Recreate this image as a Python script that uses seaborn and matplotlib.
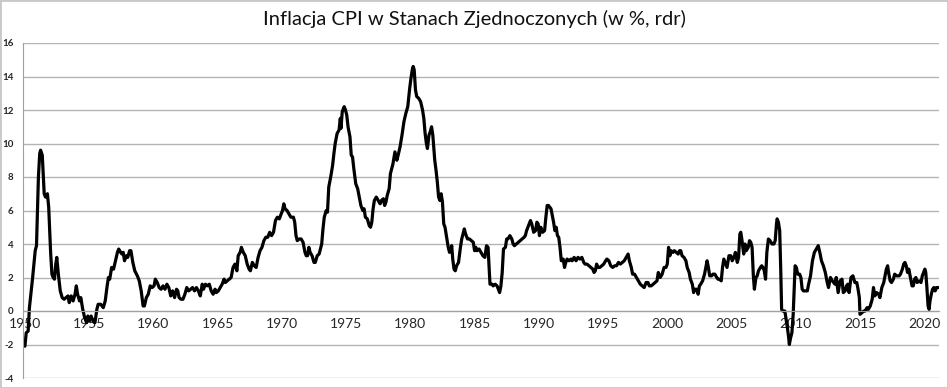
import matplotlib
matplotlib.use("Agg")
import matplotlib.pyplot as plt
from matplotlib.patches import Rectangle
import seaborn as sns
import pandas as pd

# (rok, inflacja r/r w %), po dekadach
dane_1950 = [
    (1950.0, -2.1), (1950.1, -1.3), (1950.25, -1.2), (1950.35, 0.2), (1950.6, 2.0), (1950.8, 3.6), (1950.9, 3.9),
    (1951.05, 8.0), (1951.15, 9.4), (1951.22, 9.6), (1951.35, 9.3), (1951.5, 7.0), (1951.6, 6.8), (1951.75, 7.0), (1951.85, 6.2),
    (1952.0, 3.5), (1952.1, 2.2), (1952.2, 2.0), (1952.3, 1.9), (1952.4, 2.8), (1952.48, 3.2), (1952.6, 2.2), (1952.75, 1.2), (1952.9, 0.8),
    (1953.05, 0.7), (1953.2, 0.8), (1953.35, 0.9), (1953.45, 0.5), (1953.6, 0.9), (1953.75, 0.6), (1953.9, 1.0),
    (1954.0, 1.5), (1954.1, 1.0), (1954.25, 0.6), (1954.35, 0.8), (1954.5, 0.1), (1954.65, -0.4), (1954.8, -0.7), (1954.9, -0.3),
    (1955.0, -0.6), (1955.15, -0.3), (1955.3, -0.6), (1955.45, -0.7), (1955.6, 0.1), (1955.7, 0.4), (1955.9, 0.4),
    (1956.1, 0.2), (1956.25, 0.6), (1956.4, 1.5), (1956.5, 2.0), (1956.6, 1.9), (1956.75, 2.6), (1956.9, 2.5),
    (1957.05, 3.0), (1957.2, 3.5), (1957.3, 3.7), (1957.45, 3.5), (1957.55, 3.4), (1957.65, 3.5), (1957.75, 3.0), (1957.9, 3.3),
    (1958.0, 3.2), (1958.15, 3.6), (1958.25, 3.6), (1958.4, 2.9), (1958.55, 2.4), (1958.75, 2.1), (1958.9, 1.8),
    (1959.05, 1.2), (1959.2, 0.3), (1959.3, 0.3), (1959.45, 0.8), (1959.6, 1.0), (1959.75, 1.5), (1959.9, 1.4),
]
dane_1960 = [
    (1960.05, 1.5), (1960.15, 1.9), (1960.3, 1.7), (1960.45, 1.4), (1960.6, 1.3), (1960.75, 1.5), (1960.9, 1.3),
    (1961.05, 1.6), (1961.2, 1.4), (1961.35, 0.9), (1961.5, 1.2), (1961.65, 0.8), (1961.8, 1.3), (1961.9, 1.2),
    (1962.0, 0.8), (1962.15, 0.7), (1962.3, 0.7), (1962.45, 1.0), (1962.6, 1.4), (1962.75, 1.2), (1962.9, 1.3),
    (1963.05, 1.4), (1963.2, 1.2), (1963.35, 1.4), (1963.5, 1.2), (1963.65, 0.9), (1963.8, 1.6), (1963.9, 1.3),
    (1964.05, 1.6), (1964.2, 1.5), (1964.35, 1.6), (1964.5, 1.2), (1964.65, 1.0), (1964.8, 1.3), (1964.9, 1.1),
    (1965.05, 1.2), (1965.2, 1.4), (1965.35, 1.6), (1965.5, 1.9), (1965.6, 1.7), (1965.75, 1.8), (1965.9, 1.9),
    (1966.05, 2.0), (1966.2, 2.6), (1966.35, 2.8), (1966.5, 2.4), (1966.6, 3.3), (1966.75, 3.5), (1966.85, 3.8),
    (1967.0, 3.5), (1967.15, 3.3), (1967.3, 2.8), (1967.45, 2.5), (1967.55, 2.4), (1967.7, 2.9), (1967.85, 2.7),
    (1968.0, 2.6), (1968.15, 3.2), (1968.3, 3.6), (1968.45, 3.8), (1968.6, 4.2), (1968.75, 4.4), (1968.9, 4.4),
    (1969.05, 4.7), (1969.2, 4.5), (1969.35, 4.7), (1969.5, 5.4), (1969.65, 5.6), (1969.8, 5.5), (1969.95, 5.8),
]
dane_1970 = [
    (1970.05, 6.0), (1970.15, 6.4), (1970.25, 6.1), (1970.4, 6.0), (1970.55, 5.8), (1970.7, 5.6), (1970.9, 5.6),
    (1971.0, 5.3), (1971.1, 4.5), (1971.2, 4.2), (1971.35, 4.3), (1971.5, 4.3), (1971.65, 4.1), (1971.8, 3.5), (1971.9, 3.3),
    (1972.0, 3.3), (1972.1, 3.8), (1972.2, 3.5), (1972.35, 3.3), (1972.5, 2.9), (1972.6, 2.9), (1972.75, 3.3), (1972.9, 3.4),
    (1973.0, 3.7), (1973.1, 4.0), (1973.2, 4.9), (1973.3, 5.6), (1973.45, 6.0), (1973.55, 5.9), (1973.65, 7.4), (1973.8, 8.0), (1973.95, 8.7),
    (1974.05, 9.4), (1974.15, 10.0), (1974.3, 10.6), (1974.45, 10.8), (1974.55, 11.5), (1974.6, 10.9), (1974.7, 11.9), (1974.85, 12.2), (1974.95, 12.0),
    (1975.05, 11.7), (1975.15, 11.0), (1975.3, 10.4), (1975.4, 9.3), (1975.5, 9.2), (1975.6, 8.5), (1975.75, 7.6), (1975.9, 7.3),
    (1976.0, 6.9), (1976.15, 6.3), (1976.3, 6.0), (1976.4, 6.1), (1976.5, 5.6), (1976.65, 5.5), (1976.8, 5.1), (1976.9, 5.0),
    (1977.0, 5.3), (1977.1, 6.1), (1977.2, 6.6), (1977.35, 6.8), (1977.5, 6.6), (1977.65, 6.4), (1977.75, 6.6), (1977.9, 6.7),
    (1978.0, 6.3), (1978.1, 6.5), (1978.2, 6.9), (1978.35, 7.3), (1978.45, 8.2), (1978.55, 8.5), (1978.65, 8.8), (1978.8, 9.5), (1978.95, 9.0),
    (1979.05, 9.3), (1979.2, 9.8), (1979.35, 10.5), (1979.5, 11.3), (1979.65, 11.8), (1979.8, 12.2), (1979.95, 13.3),
]
dane_1980 = [
    (1980.05, 13.9), (1980.15, 14.4), (1980.22, 14.6), (1980.3, 14.4), (1980.4, 13.2), (1980.5, 12.8), (1980.65, 12.7), (1980.8, 12.5), (1980.95, 12.0),
    (1981.05, 11.5), (1981.15, 10.6), (1981.25, 10.0), (1981.33, 9.7), (1981.45, 10.5), (1981.55, 10.7), (1981.65, 11.0), (1981.75, 10.5), (1981.9, 9.0),
    (1982.0, 8.4), (1982.1, 7.7), (1982.2, 6.8), (1982.3, 6.6), (1982.4, 7.0), (1982.5, 6.5), (1982.6, 5.2), (1982.7, 5.0), (1982.85, 4.3), (1982.95, 3.8),
    (1983.05, 3.5), (1983.15, 3.6), (1983.22, 3.9), (1983.3, 3.1), (1983.4, 2.5), (1983.5, 2.4), (1983.6, 2.7), (1983.75, 2.9), (1983.9, 3.8),
    (1984.0, 4.3), (1984.1, 4.6), (1984.2, 4.9), (1984.3, 4.6), (1984.45, 4.3), (1984.6, 4.3), (1984.75, 4.2), (1984.9, 4.1),
    (1985.0, 3.6), (1985.1, 3.8), (1985.2, 3.6), (1985.35, 3.7), (1985.5, 3.5), (1985.65, 3.3), (1985.8, 3.2), (1985.93, 3.9),
    (1986.05, 3.8), (1986.15, 2.3), (1986.2, 1.6), (1986.35, 1.6), (1986.45, 1.5), (1986.6, 1.6), (1986.75, 1.5), (1986.85, 1.3), (1986.95, 1.1),
    (1987.05, 1.5), (1987.15, 2.3), (1987.25, 3.7), (1987.4, 3.8), (1987.5, 4.3), (1987.6, 4.3), (1987.75, 4.5), (1987.9, 4.3),
    (1988.0, 4.0), (1988.1, 3.9), (1988.25, 4.0), (1988.4, 4.1), (1988.55, 4.2), (1988.7, 4.3), (1988.85, 4.4), (1988.95, 4.5),
    (1989.05, 4.8), (1989.2, 5.1), (1989.35, 5.4), (1989.45, 5.2), (1989.6, 4.7), (1989.75, 4.8), (1989.85, 5.3), (1989.95, 5.2),
]
dane_1990 = [
    (1990.05, 4.5), (1990.15, 5.0), (1990.3, 4.7), (1990.45, 4.8), (1990.55, 5.6), (1990.65, 6.3), (1990.75, 6.3), (1990.85, 6.2), (1990.95, 6.1),
    (1991.05, 5.7), (1991.15, 5.3), (1991.25, 4.8), (1991.35, 5.0), (1991.45, 4.5), (1991.55, 4.4), (1991.65, 3.8), (1991.75, 3.0), (1991.9, 3.1),
    (1992.0, 2.6), (1992.1, 2.9), (1992.2, 3.1), (1992.35, 3.0), (1992.5, 3.1), (1992.6, 3.0), (1992.75, 3.2), (1992.9, 3.0),
    (1993.05, 3.2), (1993.2, 3.1), (1993.35, 3.2), (1993.5, 2.9), (1993.6, 2.8), (1993.75, 2.8), (1993.9, 2.7),
    (1994.05, 2.6), (1994.2, 2.5), (1994.3, 2.3), (1994.4, 2.4), (1994.5, 2.8), (1994.6, 2.6), (1994.75, 2.6), (1994.9, 2.7),
    (1995.05, 2.8), (1995.2, 3.0), (1995.3, 3.1), (1995.45, 3.0), (1995.6, 2.7), (1995.75, 2.6), (1995.9, 2.7),
    (1996.05, 2.7), (1996.2, 2.9), (1996.35, 2.8), (1996.5, 2.9), (1996.65, 3.0), (1996.8, 3.2), (1996.95, 3.4),
    (1997.05, 3.0), (1997.2, 2.6), (1997.3, 2.2), (1997.45, 2.2), (1997.6, 2.0), (1997.75, 1.8), (1997.9, 1.6),
    (1998.05, 1.5), (1998.2, 1.4), (1998.35, 1.7), (1998.5, 1.7), (1998.6, 1.5), (1998.75, 1.5), (1998.9, 1.6),
    (1999.05, 1.7), (1999.2, 1.8), (1999.3, 2.3), (1999.45, 2.0), (1999.6, 2.2), (1999.75, 2.6), (1999.9, 2.6),
]
dane_2000 = [
    (2000.0, 2.8), (2000.1, 3.8), (2000.2, 3.3), (2000.3, 3.6), (2000.45, 3.5), (2000.55, 3.6), (2000.7, 3.5), (2000.85, 3.4), (2000.95, 3.6),
    (2001.05, 3.6), (2001.15, 3.3), (2001.3, 3.2), (2001.45, 3.0), (2001.55, 2.6), (2001.7, 2.3), (2001.8, 1.9), (2001.95, 1.6),
    (2002.05, 1.1), (2002.15, 1.3), (2002.3, 1.3), (2002.4, 1.0), (2002.5, 1.5), (2002.6, 1.6), (2002.75, 1.8), (2002.9, 2.2),
    (2003.0, 2.6), (2003.1, 3.0), (2003.2, 2.6), (2003.3, 2.1), (2003.45, 2.1), (2003.55, 2.2), (2003.7, 2.2), (2003.85, 2.0), (2003.95, 1.9),
    (2004.05, 1.9), (2004.2, 1.8), (2004.3, 2.6), (2004.4, 3.1), (2004.55, 2.8), (2004.65, 2.6), (2004.8, 3.3), (2004.95, 3.3),
    (2005.05, 3.0), (2005.2, 3.2), (2005.3, 3.5), (2005.45, 2.9), (2005.55, 3.2), (2005.65, 4.6), (2005.72, 4.7), (2005.8, 4.3), (2005.95, 3.4),
    (2006.05, 4.0), (2006.15, 3.6), (2006.3, 3.8), (2006.4, 4.2), (2006.5, 4.1), (2006.6, 3.8), (2006.7, 2.1), (2006.78, 1.3), (2006.9, 2.0),
    (2007.0, 2.1), (2007.1, 2.4), (2007.25, 2.6), (2007.35, 2.7), (2007.45, 2.6), (2007.55, 2.4), (2007.65, 1.9), (2007.75, 3.5), (2007.87, 4.3),
    (2008.0, 4.2), (2008.15, 4.0), (2008.3, 4.0), (2008.4, 4.2), (2008.5, 5.2), (2008.55, 5.5), (2008.65, 5.3), (2008.75, 4.8), (2008.83, 2.5), (2008.9, 0.1),
    (2009.0, 0.0), (2009.15, 0.0), (2009.25, -0.5), (2009.35, -1.0), (2009.45, -1.6), (2009.5, -2.0), (2009.6, -1.6), (2009.7, -1.3),
    (2009.8, -0.2), (2009.9, 1.8), (2009.95, 2.7),
]
dane_2010 = [
    (2010.05, 2.6), (2010.15, 2.2), (2010.3, 2.2), (2010.4, 2.0), (2010.5, 1.3), (2010.6, 1.2), (2010.75, 1.2), (2010.9, 1.2),
    (2011.0, 1.6), (2011.15, 2.1), (2011.3, 3.0), (2011.45, 3.5), (2011.6, 3.7), (2011.75, 3.9), (2011.9, 3.4),
    (2012.0, 3.0), (2012.15, 2.7), (2012.3, 2.3), (2012.45, 1.7), (2012.55, 1.4), (2012.7, 2.0), (2012.85, 1.8), (2012.95, 1.7),
    (2013.05, 1.6), (2013.15, 2.0), (2013.3, 1.1), (2013.45, 1.8), (2013.6, 1.9), (2013.7, 1.1), (2013.85, 1.2), (2013.95, 1.5),
    (2014.05, 1.6), (2014.15, 1.1), (2014.3, 2.0), (2014.45, 2.1), (2014.6, 1.7), (2014.75, 1.7), (2014.85, 1.3), (2014.95, 0.8),
    (2015.0, -0.2), (2015.15, -0.1), (2015.3, 0.0), (2015.4, 0.0), (2015.55, 0.2), (2015.65, 0.1), (2015.8, 0.3), (2015.95, 0.7),
    (2016.05, 1.4), (2016.15, 0.9), (2016.3, 1.1), (2016.45, 1.0), (2016.55, 0.8), (2016.7, 1.4), (2016.85, 1.7), (2016.95, 2.1),
    (2017.05, 2.5), (2017.15, 2.7), (2017.25, 2.2), (2017.35, 1.8), (2017.45, 1.7), (2017.6, 1.9), (2017.7, 2.2), (2017.85, 2.1), (2017.95, 2.1),
    (2018.05, 2.1), (2018.15, 2.2), (2018.3, 2.5), (2018.4, 2.8), (2018.5, 2.9), (2018.6, 2.7), (2018.7, 2.3), (2018.8, 2.5), (2018.95, 1.9),
    (2019.05, 1.5), (2019.15, 1.5), (2019.25, 1.9), (2019.35, 2.0), (2019.45, 1.7), (2019.6, 1.8), (2019.75, 1.7), (2019.85, 2.1), (2019.95, 2.3),
]
dane_2020 = [
    (2020.05, 2.5), (2020.12, 2.3), (2020.2, 1.5), (2020.3, 0.3), (2020.38, 0.1), (2020.45, 0.6), (2020.55, 1.0),
    (2020.65, 1.3), (2020.75, 1.4), (2020.85, 1.2), (2020.95, 1.4), (2021.05, 1.4), (2021.1, 1.4),
]

lata_etykiety = list(range(1950, 2021, 5))
y_ticks = list(range(-4, 17, 2))

df = pd.DataFrame(
    dane_1950 + dane_1960 + dane_1970 + dane_1980 + dane_1990 + dane_2000 + dane_2010 + dane_2020,
    columns=["rok", "cpi"],
)

sns.set_style("white")
plt.rcParams["font.family"] = ["Lato", "DejaVu Sans"]

fig = plt.figure(figsize=(9.48, 3.88), dpi=100)
ax = fig.add_axes([23 / 948, 10 / 388, 916 / 948, 335 / 388])

sns.lineplot(data=df, x="rok", y="cpi", color="black", linewidth=2.3, ax=ax)

ax.set_xlim(1949.85, 2021.15)
ax.set_ylim(-4, 16)
ax.set_yticks(y_ticks)
ax.set_xticks(lata_etykiety)
ax.set_xticklabels([str(r) for r in lata_etykiety], fontsize=7, fontweight="bold")
ax.set_yticklabels([str(v) for v in y_ticks], fontsize=7, fontweight="bold")
ax.set_xlabel("")
ax.set_ylabel("")

ax.grid(axis="y", color="#b4b4b4", linewidth=1)
ax.grid(axis="x", visible=False)
ax.set_axisbelow(True)

ax.spines["top"].set_visible(False)
ax.spines["right"].set_visible(False)
ax.spines["left"].set_color("#a0a0a0")
ax.spines["bottom"].set_position(("data", 0))
ax.spines["bottom"].set_color("#a0a0a0")
ax.tick_params(axis="x", direction="out", length=3, color="#a0a0a0", pad=2)
ax.tick_params(axis="y", length=3, color="#a0a0a0", pad=4)

fig.suptitle("Inflacja CPI w Stanach Zjednoczonych (w %, rdr)", fontsize=14.5, y=0.975, color="#111111")
fig.add_artist(Rectangle((0, 0), 1, 1, transform=fig.transFigure, fill=False,
                         edgecolor="#c8c8c8", linewidth=2))

fig.savefig("out.png", dpi=100)
